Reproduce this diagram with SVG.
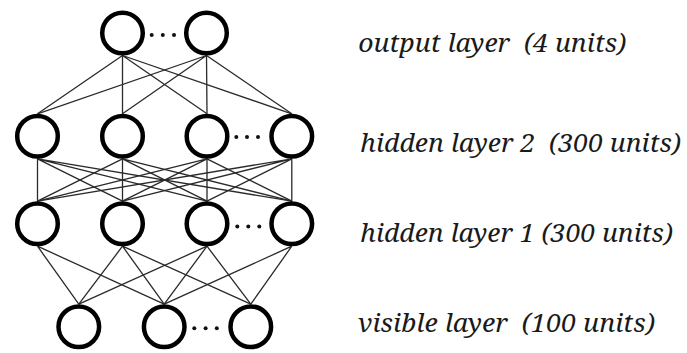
<svg xmlns="http://www.w3.org/2000/svg" width="687" height="353" viewBox="0 0 687 353">
<style>
.edge{stroke:#2a2a2a;stroke-width:1.3;fill:none}
.node{fill:#fff;stroke:#000;stroke-width:4.5}
.dot{fill:#111}
</style>
<rect width="687" height="353" fill="#fff"/>
<g id="connectors">
<path class="edge" d="M122.5,55.5L37.5,113.8M122.5,55.5L122.5,113.8M122.5,55.5L207,113.8M122.5,55.5L291.8,113.8"/>
<path class="edge" d="M206.5,55.5L37.5,113.8M206.5,55.5L122.5,113.8M206.5,55.5L207,113.8M206.5,55.5L291.8,113.8"/>
<path class="edge" d="M37.5,158.8L37.5,201.2M37.5,158.8L122.5,201.2M37.5,158.8L207,201.2M37.5,158.8L291.8,201.2"/>
<path class="edge" d="M122.5,158.8L37.5,201.2M122.5,158.8L122.5,201.2M122.5,158.8L207,201.2M122.5,158.8L291.8,201.2"/>
<path class="edge" d="M207,158.8L37.5,201.2M207,158.8L122.5,201.2M207,158.8L207,201.2M207,158.8L291.8,201.2"/>
<path class="edge" d="M291.8,158.8L37.5,201.2M291.8,158.8L122.5,201.2M291.8,158.8L207,201.2M291.8,158.8L291.8,201.2"/>
<path class="edge" d="M37.5,246.2L78.8,304.2M37.5,246.2L164.2,304.2"/>
<path class="edge" d="M122.5,246.2L78.8,304.2M122.5,246.2L164.2,304.2M122.5,246.2L250.8,304.2"/>
<path class="edge" d="M207,246.2L78.8,304.2M207,246.2L164.2,304.2M207,246.2L250.8,304.2"/>
<path class="edge" d="M291.8,246.2L164.2,304.2M291.8,246.2L250.8,304.2"/>
</g>
<g id="output-layer">
<circle class="node" cx="122.5" cy="33" r="20.3"/>
<circle class="node" cx="206.5" cy="33" r="20.3"/>
<circle class="dot" cx="151.7" cy="35" r="2"/>
<circle class="dot" cx="162.8" cy="35" r="2"/>
<circle class="dot" cx="174" cy="35" r="2"/>
</g>
<g id="hidden-layer-2">
<circle class="node" cx="37.5" cy="136.3" r="20.3"/>
<circle class="node" cx="122.5" cy="136.3" r="20.3"/>
<circle class="node" cx="207" cy="136.3" r="20.3"/>
<circle class="node" cx="291.8" cy="136.3" r="20.3"/>
<circle class="dot" cx="236.3" cy="137" r="2"/>
<circle class="dot" cx="247" cy="137" r="2"/>
<circle class="dot" cx="258" cy="137" r="2"/>
</g>
<g id="hidden-layer-1">
<circle class="node" cx="37.5" cy="223.7" r="20.3"/>
<circle class="node" cx="122.5" cy="223.7" r="20.3"/>
<circle class="node" cx="207" cy="223.7" r="20.3"/>
<circle class="node" cx="291.8" cy="223.7" r="20.3"/>
<circle class="dot" cx="237.3" cy="226.5" r="2"/>
<circle class="dot" cx="248.3" cy="226.5" r="2"/>
<circle class="dot" cx="259.3" cy="226.5" r="2"/>
</g>
<g id="visible-layer">
<circle class="node" cx="78.8" cy="326.7" r="20.3"/>
<circle class="node" cx="164.2" cy="326.7" r="20.3"/>
<circle class="node" cx="250.8" cy="326.7" r="20.3"/>
<circle class="dot" cx="194.3" cy="328.3" r="2"/>
<circle class="dot" cx="205.6" cy="328.3" r="2"/>
<circle class="dot" cx="216.8" cy="328.3" r="2"/>
</g>
<g id="labels" font-family="Noto Serif, Liberation Serif, serif" font-style="italic" font-size="25" fill="#1a1a1a">
<text x="358.3" y="51.5" xml:space="preserve" textLength="268" lengthAdjust="spacingAndGlyphs">output layer  (4 units)</text>
<text x="360" y="151.5" xml:space="preserve" textLength="321" lengthAdjust="spacingAndGlyphs">hidden layer 2  (300 units)</text>
<text x="360" y="241.5" xml:space="preserve" textLength="313" lengthAdjust="spacingAndGlyphs">hidden layer 1 (300 units)</text>
<text x="358" y="331.5" xml:space="preserve" textLength="297" lengthAdjust="spacingAndGlyphs">visible layer  (100 units)</text>
</g>
</svg>
